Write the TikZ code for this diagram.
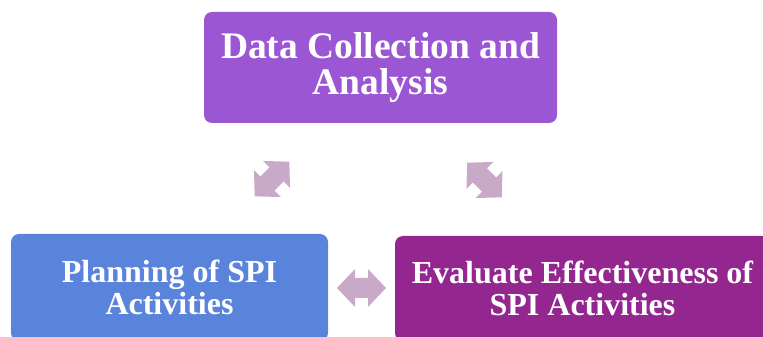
\documentclass[tikz,border=0pt]{standalone}
\usepackage{fontspec}
\setmainfont{Liberation Serif}
\definecolor{topc}{HTML}{9B56D3}
\definecolor{leftc}{HTML}{5A84DC}
\definecolor{rightc}{HTML}{93278F}
\definecolor{arrc}{HTML}{C9A9C8}
\tikzset{
  box/.style={rounded corners=8pt, inner sep=0pt, align=center, text=white, font=\bfseries},
  bigtxt/.style={font=\fontsize{37.5}{36.5}\selectfont\bfseries},
  midtxt/.style={font=\fontsize{32}{31.5}\selectfont\bfseries},
  pics/dblarrow/.style={code={
    \fill[arrc] (-24.5,0) -- (-6.5,19) -- (-6.5,10) -- (6.5,10) -- (6.5,19) -- (24.5,0)
      -- (6.5,-19) -- (6.5,-10) -- (-6.5,-10) -- (-6.5,-19) -- cycle;
  }}
}
\begin{document}
\begin{tikzpicture}[x=1pt,y=1pt]
\useasboundingbox (0,0) rectangle (763,337);
\clip (0,0) rectangle (763,337);
\node[box, bigtxt, fill=topc, minimum width=353pt, minimum height=111pt] (data) at (380.5,269.5) {Data Collection and\\Analysis};
\node[box, midtxt, fill=leftc, minimum width=317pt, minimum height=107pt] (plan) at (169.5,49.5) {Planning of SPI\\Activities};
\node[box, midtxt, fill=rightc, minimum width=375pt, minimum height=105pt] (eval) at (582.5,48.5) {Evaluate Effectiveness of\\SPI Activities};
\coordinate (a1) at (272,158);
\coordinate (a2) at (484.5,157);
\coordinate (a3) at (361.5,49);
\pic[rotate=45] at (a1) {dblarrow};
\pic[rotate=-45] at (a2) {dblarrow};
\pic at (a3) {dblarrow};
\end{tikzpicture}
\end{document}
